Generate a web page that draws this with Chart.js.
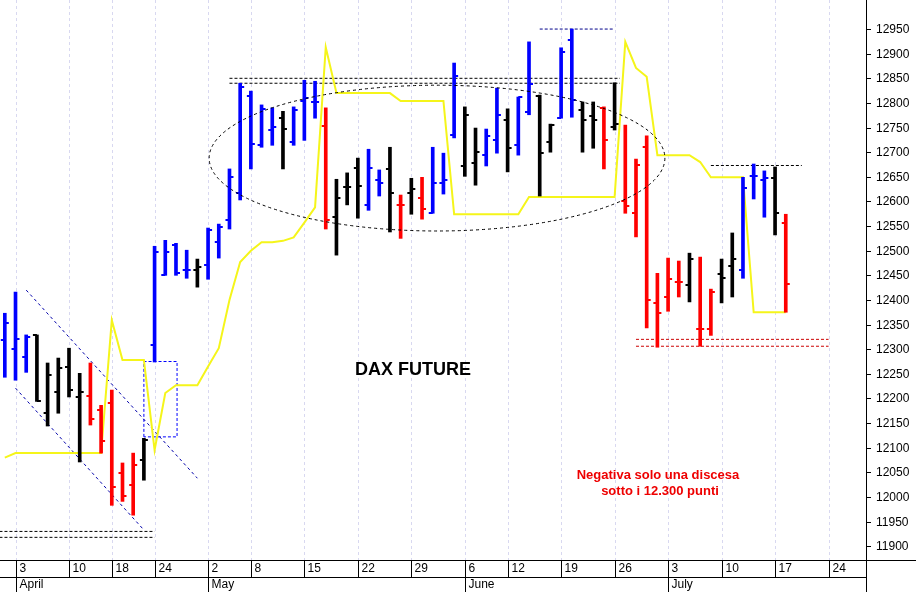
<!DOCTYPE html>
<html><head><meta charset="utf-8">
<script src="https://cdn.jsdelivr.net/npm/chart.js@4.4.0/dist/chart.umd.min.js"></script>
<style>html,body{margin:0;padding:0;background:#fff}#w{width:916px;height:592px}</style>
</head><body><div id="w"><canvas id="c"></canvas></div>
<script>
const opens=[12318,12300,12284,12329,12170,12213,12264,12203,12205,12176,12190,12048,12024,12075,12308,12450,12511,12460,12460,12471,12517,12562,12617,12814,12714,12745,12769,12720,12804,12802,12753,12568,12629,12668,12593,12643,12666,12593,12617,12607,12576,12637,12735,12672,12678,12694,12724,12765,12714,12782,12814,12720,12769,12928,12786,12773,12790,12751,12600,12576,12711,12393,12406,12436,12430,12341,12341,12452,12469,12460,12652,12643,12647,12556];
const highs=[12373,12416,12329,12329,12272,12282,12302,12251,12272,12186,12217,12069,12089,12119,12509,12521,12515,12501,12483,12546,12554,12666,12840,12824,12796,12790,12783,12792,12846,12844,12790,12645,12658,12688,12706,12664,12710,12613,12647,12649,12710,12698,12881,12792,12749,12747,12830,12788,12812,12924,12816,12757,12912,12950,12802,12802,12792,12841,12755,12686,12733,12454,12485,12479,12495,12487,12422,12483,12536,12649,12676,12662,12670,12574];
const lows=[12243,12237,12253,12194,12144,12170,12203,12071,12146,12089,11983,11991,11963,12034,12274,12450,12450,12444,12426,12442,12485,12544,12603,12666,12710,12714,12666,12714,12724,12769,12544,12491,12593,12566,12582,12611,12538,12525,12574,12564,12576,12615,12729,12651,12633,12672,12698,12660,12694,12776,12611,12700,12769,12771,12700,12708,12666,12745,12576,12528,12343,12304,12377,12406,12396,12306,12328,12394,12406,12444,12605,12568,12532,12375];
const closes=[12353,12320,12325,12194,12247,12262,12217,12213,12158,12113,12020,12002,12065,12115,12497,12497,12455,12460,12467,12542,12548,12649,12832,12716,12787,12751,12747,12785,12810,12802,12562,12607,12629,12631,12668,12637,12617,12593,12625,12584,12637,12643,12855,12776,12700,12733,12776,12708,12812,12839,12698,12755,12903,12806,12765,12765,12724,12757,12590,12674,12400,12373,12442,12436,12483,12341,12416,12444,12483,12627,12652,12647,12576,12432];
const kinds=("uuunnnnnddddd"+"n"+"uuuu"+"n"+"uuuuuuu"+"n"+"uuu"+"d"+"nnn"+"uu"+"n"+"d"+"n"+"d"+"uuu"+"nn"+"uu"+"n"+"uu"+"nn"+"uu"+"nn"+"d"+"n"+"dddddd"+"n"+"dd"+"nn"+"uuu"+"n"+"d").split("");
const stopLine=[12080,12089,12089,12089,12089,12089,12089,12089,12089,12089,12359,12278,12278,12278,12095,12211,12227,12227,12227,12265,12302,12400,12477,12500,12517,12517,12520,12527,12557,12588,12913,12820,12820,12820,12820,12820,12820,12804,12804,12804,12804,12804,12574,12574,12574,12574,12574,12574,12574,12609,12609,12609,12609,12609,12609,12609,12609,12609,12924,12871,12853,12694,12694,12694,12694,12680,12649,12649,12649,12649,12375,12375,12375,12375];
const dayTickIdx=[1,6,10,14,19,23,28,33,38,43,47,52,57,62,67,72,77];
const dayTickLabels=["3","10","18","24","2","8","15","22","29","6","12","19","26","3","10","17","24"];
const monthIdx=[1,19,43,62];
const monthLabels=["April","May","June","July"];
const yTicks=[11900,11950,12000,12050,12100,12150,12200,12250,12300,12350,12400,12450,12500,12550,12600,12650,12700,12750,12800,12850,12900,12950];
const blackLevels=[[-0.5,14,11930],[-0.5,14,11918],[21,57.5,12850],[21,57.5,12840],[66,74.5,12673]];
const blueLevels=[[50,57,12950]];
const redLevels=[[59,77,12320],[59,77,12306]];
const channelUpper=[[2,12420],[18,12038]];
const channelLower=[[1,12221],[13,11933]];
const boxX=[13,16.1], boxY=[12122,12275];
const ellipse={cx:40.4,cy:12688,rx:21.3,ry:148};

const colorOf=k=>k==='u'?'#0000ff':k==='d'?'#ff0000':'#000000';
const idx=opens.map((_,i)=>i);
const lineDs=(pts,color,dash,w)=>({type:'line',data:pts.map(p=>({x:p[0],y:p[1]})),borderColor:color,borderWidth:w||1,borderDash:dash,pointRadius:0,fill:false,tension:0});
const datasets=[
 {type:'bar',data:idx.map(i=>({x:i,y:[lows[i],highs[i]]})),backgroundColor:kinds.map(colorOf),barThickness:3,grouped:false},
 {type:'line',data:idx.map(i=>({x:i,y:stopLine[i]})),borderColor:'#f5f51a',borderWidth:2,pointRadius:0,tension:0,fill:false}
];
blackLevels.forEach(l=>datasets.push(lineDs([[l[0],l[2]],[l[1],l[2]]],'#000',[3,2])));
blueLevels.forEach(l=>datasets.push(lineDs([[l[0],l[2]],[l[1],l[2]]],'#00008b',[3,2])));
redLevels.forEach(l=>datasets.push(lineDs([[l[0],l[2]],[l[1],l[2]]],'#cc0000',[3,2])));
datasets.push(lineDs(channelUpper,'#0000aa',[3,3]));
datasets.push(lineDs(channelLower,'#0000aa',[3,3]));
datasets.push(lineDs([[boxX[0],boxY[0]],[boxX[0],boxY[1]],[boxX[1],boxY[1]],[boxX[1],boxY[0]],[boxX[0],boxY[0]]],'#0000ff',[3,2]));

const extras={id:'extras',
 beforeDatasetsDraw(ch){
  const {ctx,scales:{x,y},chartArea:a}=ch;
  ctx.save();ctx.strokeStyle='#d8d8f0';ctx.setLineDash([3,3]);ctx.lineWidth=1;
  dayTickIdx.forEach(i=>{const px=Math.round(x.getPixelForValue(i))+0.5;ctx.beginPath();ctx.moveTo(px,a.top);ctx.lineTo(px,a.bottom);ctx.stroke();});
  ctx.restore();
 },
 afterDatasetsDraw(ch){
  const {ctx,scales:{x,y},chartArea:a}=ch;
  ctx.save();
  ctx.lineWidth=2;
  idx.forEach(i=>{
   const px=x.getPixelForValue(i);ctx.strokeStyle=colorOf(kinds[i]);
   let py=Math.round(y.getPixelForValue(opens[i]));ctx.beginPath();ctx.moveTo(px-4,py);ctx.lineTo(px,py);ctx.stroke();
   py=Math.round(y.getPixelForValue(closes[i]));ctx.beginPath();ctx.moveTo(px,py);ctx.lineTo(px+4,py);ctx.stroke();
  });
  const cx=x.getPixelForValue(ellipse.cx),cy=y.getPixelForValue(ellipse.cy);
  const rx=x.getPixelForValue(ellipse.cx+ellipse.rx)-cx,ry=cy-y.getPixelForValue(ellipse.cy+ellipse.ry);
  ctx.strokeStyle='#000';ctx.lineWidth=1;ctx.setLineDash([3,3]);
  ctx.beginPath();ctx.ellipse(cx,cy,rx,ry,0,0,Math.PI*2);ctx.stroke();ctx.setLineDash([]);
  ctx.fillStyle='#000';ctx.font='bold 18px Arial, "Liberation Sans"';ctx.textAlign='center';ctx.textBaseline='middle';
  ctx.fillText('DAX FUTURE',413,370);
  ctx.fillStyle='#ee0000';ctx.font='bold 13px Arial, "Liberation Sans"';
  ctx.fillText('Negativa solo una discesa',658,475);ctx.fillText('sotto i 12.300 punti',660,491);
  ctx.strokeStyle='#000';ctx.lineWidth=1;
  ctx.beginPath();ctx.moveTo(a.right+0.5,0);ctx.lineTo(a.right+0.5,592);ctx.stroke();
  ctx.beginPath();ctx.moveTo(0,a.bottom+0.5);ctx.lineTo(916,a.bottom+0.5);ctx.stroke();
  ctx.beginPath();ctx.moveTo(0,577.5);ctx.lineTo(a.right,577.5);ctx.stroke();
  ctx.font='12px Arial, "Liberation Sans"';ctx.textAlign='left';ctx.textBaseline='middle';ctx.fillStyle='#000';
  dayTickIdx.forEach((i,k)=>{const px=Math.round(x.getPixelForValue(i))+0.5;if(px>a.right)return;
   ctx.beginPath();ctx.moveTo(px,a.bottom);ctx.lineTo(px,577);ctx.stroke();ctx.fillText(dayTickLabels[k],px+3,569);});
  monthIdx.forEach((i,k)=>{const px=Math.round(x.getPixelForValue(i))+0.5;
   ctx.beginPath();ctx.moveTo(px,577);ctx.lineTo(px,592);ctx.stroke();ctx.fillText(monthLabels[k],px+3,585);});
  yTicks.forEach(v=>{const py=Math.round(y.getPixelForValue(v))+0.5;
   ctx.beginPath();ctx.moveTo(a.right,py);ctx.lineTo(a.right+5,py);ctx.stroke();ctx.fillText(String(v),a.right+10,py);});
  ctx.restore();
 }};

new Chart(document.getElementById('c'),{
 data:{datasets},
 options:{responsive:true,maintainAspectRatio:false,animation:false,
  layout:{padding:{left:0,right:50,top:0,bottom:32}},
  plugins:{legend:{display:false},tooltip:{enabled:false}},
  scales:{
   x:{type:'linear',min:-0.45,max:80.5,display:false,offset:false},
   y:{type:'linear',min:11872,max:13009,display:false}
  }},
 plugins:[extras]});
</script></body></html>
